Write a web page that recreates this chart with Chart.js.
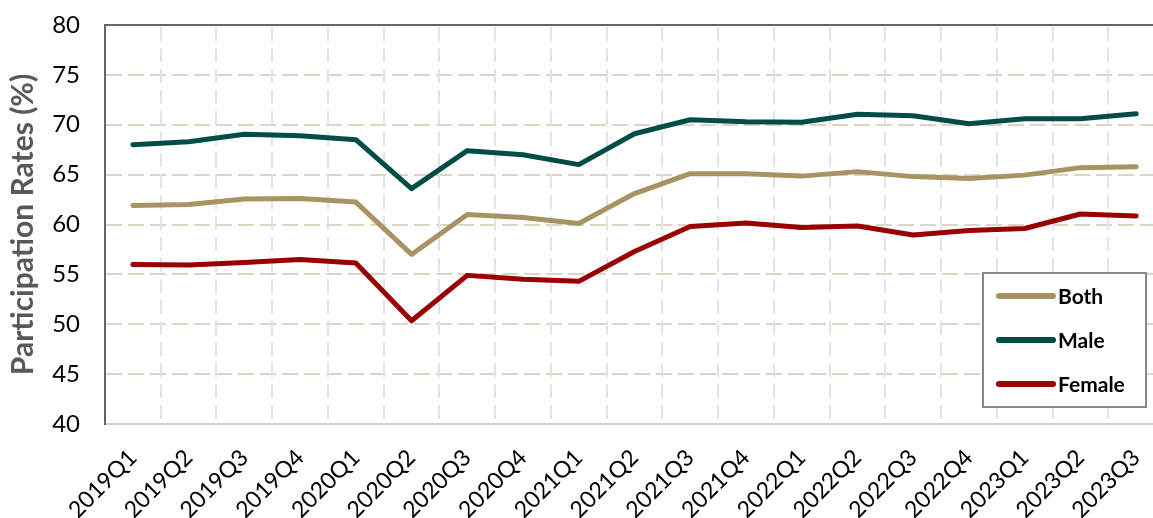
<!DOCTYPE html>
<html>
<head>
<meta charset="utf-8">
<script src="https://cdn.jsdelivr.net/npm/chart.js@4.4.1/dist/chart.umd.min.js"></script>
<style>
  html, body { margin: 0; padding: 0; background: #fff; overflow: hidden; }
  #wrap { width: 1175px; height: 518px; }
</style>
</head>
<body>
<div id="wrap"><canvas id="chart"></canvas></div>
<script>
const quarters = ['2019Q1', '2019Q2', '2019Q3', '2019Q4', '2020Q1', '2020Q2', '2020Q3', '2020Q4',
    '2021Q1', '2021Q2', '2021Q3', '2021Q4', '2022Q1', '2022Q2', '2022Q3', '2022Q4',
    '2023Q1', '2023Q2', '2023Q3'];
const both = [61.9, 62.0, 62.55, 62.6, 62.25, 57.0, 61.0, 60.7, 60.1, 63.1, 65.1, 65.1,
    64.85, 65.3, 64.8, 64.6, 64.95, 65.7, 65.8];
const male = [68.0, 68.3, 69.05, 68.9, 68.5, 63.6, 67.4, 67.0, 66.0, 69.1, 70.5, 70.3,
    70.25, 71.05, 70.9, 70.1, 70.6, 70.6, 71.1];
const female = [56.0, 55.95, 56.2, 56.5, 56.15, 50.35, 54.9, 54.5, 54.3, 57.3, 59.8, 60.15,
    59.7, 59.85, 58.95, 59.4, 59.6, 61.05, 60.85];
const yTicks = [40, 45, 50, 55, 60, 65, 70, 75, 80];

const FONT = 'Lato, "Open Sans", sans-serif';

// dashed vertical lines between the quarters, plus the solid top frame
const frameGrid = {
    id: 'frameGrid',
    beforeDatasetsDraw(chart) {
        const { ctx, chartArea, scales } = chart;
        const xs = scales.x;
        const step = xs.getPixelForValue(1) - xs.getPixelForValue(0);
        ctx.save();
        ctx.strokeStyle = '#E3E3E3';
        ctx.lineWidth = 2;
        ctx.setLineDash([14, 7]);
        for (let i = 1; i <= quarters.length; i++) {
            const x = Math.round(xs.getPixelForValue(i) - step / 2);
            ctx.beginPath();
            ctx.moveTo(x, chartArea.top + 2);
            ctx.lineTo(x, chartArea.bottom - 1);
            ctx.stroke();
        }
        ctx.setLineDash([]);
        ctx.strokeStyle = '#666';
        ctx.beginPath();
        ctx.moveTo(chartArea.left - 1, chartArea.top);
        ctx.lineTo(chartArea.right, chartArea.top);
        ctx.stroke();
        ctx.restore();
    }
};

// boxed legend sitting in the lower right corner of the plot
const boxLegend = {
    id: 'boxLegend',
    afterDatasetsDraw(chart) {
        const { ctx, chartArea } = chart;
        const right = chartArea.right - 18;
        const bottom = chartArea.bottom - 17;
        const w = 163, h = 134;
        const x = right - w, y = bottom - h;
        ctx.save();
        ctx.fillStyle = '#fff';
        ctx.fillRect(x, y, w, h);
        ctx.strokeStyle = '#888';
        ctx.lineWidth = 2;
        ctx.strokeRect(x, y, w, h);
        ctx.font = 'bold 21px ' + FONT;
        ctx.textBaseline = 'middle';
        ctx.lineCap = 'round';
        chart.data.datasets.forEach((ds, i) => {
            const cy = y + 23 + i * 44;
            ctx.strokeStyle = ds.borderColor;
            ctx.lineWidth = 6;
            ctx.beginPath();
            ctx.moveTo(x + 16, cy);
            ctx.lineTo(x + 70, cy);
            ctx.stroke();
            ctx.fillStyle = '#000';
            ctx.fillText(ds.label, x + 75, cy + 1);
        });
        ctx.restore();
    }
};

const line = (label, data, color) => ({
    label,
    data,
    borderColor: color,
    backgroundColor: color,
    borderWidth: 5,
    tension: 0,
    pointRadius: 0,
    borderCapStyle: 'round',
    borderJoinStyle: 'round',
    fill: false
});

new Chart(document.getElementById('chart'), {
    type: 'line',
    data: {
        labels: quarters,
        datasets: [
            line('Both', both, '#A89463'),
            line('Male', male, '#004D47'),
            line('Female', female, '#990000')
        ]
    },
    options: {
        responsive: true,
        maintainAspectRatio: false,
        animation: false,
        layout: { padding: { top: 25, right: 11, left: 0, bottom: 0 } },
        plugins: {
            legend: { display: false },
            tooltip: { enabled: false }
        },
        scales: {
            x: {
                offset: true,
                grid: { display: false },
                border: { display: true, color: '#D0D0D0', width: 2 },
                ticks: {
                    autoSkip: false,
                    minRotation: 45,
                    maxRotation: 45,
                    padding: 12,
                    color: '#000',
                    font: { family: FONT, size: 23 }
                },
                afterFit(scale) {
                    scale.height = 94;
                    scale.paddingLeft = 0;
                    scale.paddingRight = 0;
                }
            },
            y: {
                min: 40,
                max: 80,
                afterBuildTicks(scale) {
                    scale.ticks = yTicks.map(v => ({ value: v }));
                },
                grid: {
                    color: ctx => (ctx.tick && ctx.tick.value === 80) ? 'rgba(0,0,0,0)' : '#DDD5C3',
                    lineWidth: 2,
                    drawTicks: false
                },
                border: { display: true, color: '#666', width: 2, dash: [16, 6] },
                ticks: {
                    padding: 25,
                    color: '#000',
                    font: { family: FONT, size: 24 }
                },
                title: {
                    display: true,
                    text: 'Participation Rates (%)',
                    color: '#595959',
                    padding: { top: 5, bottom: 0 },
                    font: { family: FONT, size: 30, weight: 'bold' }
                },
                afterFit(scale) {
                    scale.width = 105;
                    scale.paddingTop = 0;
                    scale.paddingBottom = 0;
                }
            }
        }
    },
    plugins: [frameGrid, boxLegend]
});
</script>
</body>
</html>
